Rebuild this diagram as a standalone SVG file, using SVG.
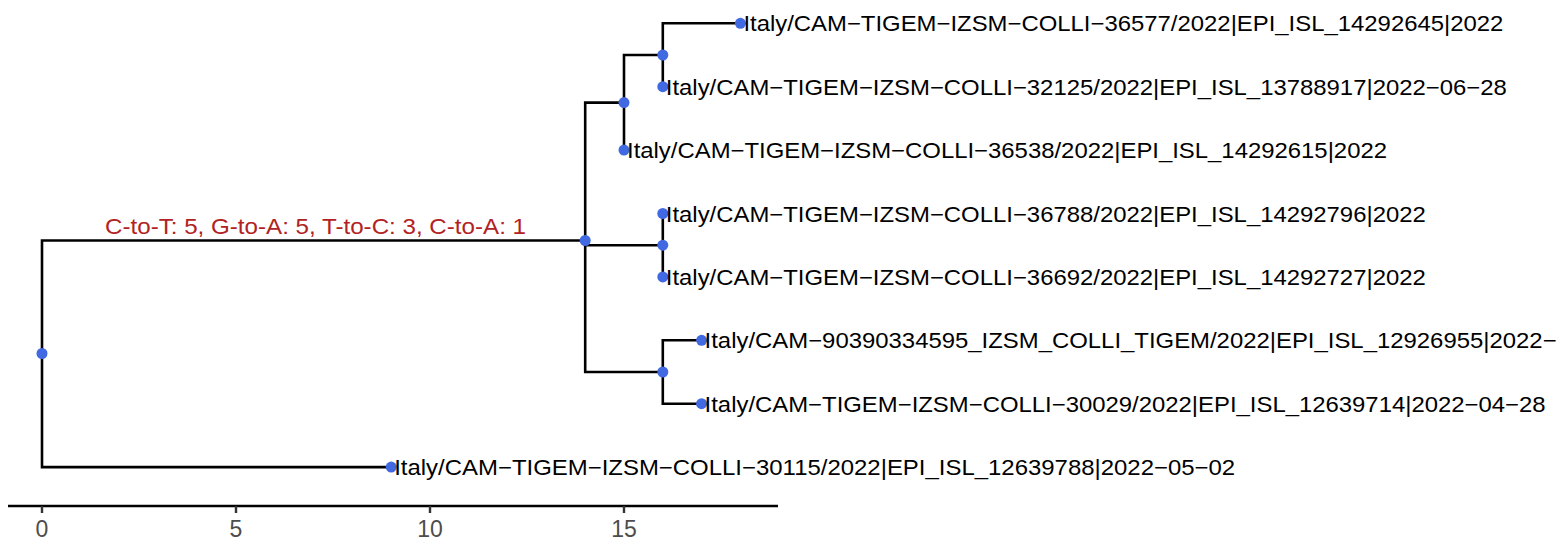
<svg xmlns="http://www.w3.org/2000/svg" width="1559" height="539" viewBox="0 0 1559 539">
<style>
.e{fill:none;stroke:#000;stroke-width:2.6;stroke-linejoin:miter}
.d{fill:#4169E1}
.t{font-family:"Liberation Sans",Arial,sans-serif;font-size:22px;fill:#000}
.m{font-family:"Liberation Sans",Arial,sans-serif;font-size:22px;fill:#B22222}
.a{font-family:"Liberation Sans",Arial,sans-serif;font-size:23px;fill:#4D4D4D;text-anchor:middle}
</style>
<rect width="1559" height="539" fill="#fff"/>
<g id="connectors">
<path class="e" d="M42 353.5V240.5H585.2"/>
<path class="e" d="M42 353.5V467.1H391.2"/>
<path class="e" d="M585.2 240.5V102.6H624"/>
<path class="e" d="M585.2 240.5V245.2H662.8"/>
<path class="e" d="M585.2 240.5V372H662.8"/>
<path class="e" d="M624 102.6V55H662.8"/>
<path class="e" d="M624 102.6V150.1"/>
<path class="e" d="M662.8 55V23.3H740.4"/>
<path class="e" d="M662.8 55V86.7"/>
<path class="e" d="M662.8 245.2V213.5"/>
<path class="e" d="M662.8 245.2V276.9"/>
<path class="e" d="M662.8 372V340.3H701.6"/>
<path class="e" d="M662.8 372V403.7H701.6"/>
<text class="m" x="105" y="234" textLength="421" lengthAdjust="spacingAndGlyphs">C-to-T: 5, G-to-A: 5, T-to-C: 3, C-to-A: 1</text>
</g>
<g id="root"><circle class="d" cx="42" cy="353.5" r="5.5"/></g>
<g id="n1"><circle class="d" cx="585.2" cy="240.5" r="5.5"/></g>
<g id="n2"><circle class="d" cx="624" cy="102.6" r="5.5"/></g>
<g id="n3"><circle class="d" cx="662.8" cy="55" r="5.5"/></g>
<g id="n4"><circle class="d" cx="662.8" cy="245.2" r="5.5"/></g>
<g id="n5"><circle class="d" cx="662.8" cy="372" r="5.5"/></g>
<g id="t1"><circle class="d" cx="740.4" cy="23.3" r="5.5"/><text class="t" x="743.4" y="31.3" textLength="760" lengthAdjust="spacingAndGlyphs">Italy/CAM−TIGEM−IZSM−COLLI−36577/2022|EPI_ISL_14292645|2022</text></g>
<g id="t2"><circle class="d" cx="662.8" cy="86.7" r="5.5"/><text class="t" x="665.8" y="94.7" textLength="841" lengthAdjust="spacingAndGlyphs">Italy/CAM−TIGEM−IZSM−COLLI−32125/2022|EPI_ISL_13788917|2022−06−28</text></g>
<g id="t3"><circle class="d" cx="624" cy="150.1" r="5.5"/><text class="t" x="627" y="158.1" textLength="760" lengthAdjust="spacingAndGlyphs">Italy/CAM−TIGEM−IZSM−COLLI−36538/2022|EPI_ISL_14292615|2022</text></g>
<g id="t4"><circle class="d" cx="662.8" cy="213.5" r="5.5"/><text class="t" x="665.8" y="221.5" textLength="760" lengthAdjust="spacingAndGlyphs">Italy/CAM−TIGEM−IZSM−COLLI−36788/2022|EPI_ISL_14292796|2022</text></g>
<g id="t5"><circle class="d" cx="662.8" cy="276.9" r="5.5"/><text class="t" x="665.8" y="284.9" textLength="760" lengthAdjust="spacingAndGlyphs">Italy/CAM−TIGEM−IZSM−COLLI−36692/2022|EPI_ISL_14292727|2022</text></g>
<g id="t6"><circle class="d" cx="701.6" cy="340.3" r="5.5"/><text class="t" x="704.6" y="348.3" textLength="852" lengthAdjust="spacingAndGlyphs">Italy/CAM−90390334595_IZSM_COLLI_TIGEM/2022|EPI_ISL_12926955|2022−</text></g>
<g id="t7"><circle class="d" cx="701.6" cy="403.7" r="5.5"/><text class="t" x="704.6" y="411.7" textLength="841" lengthAdjust="spacingAndGlyphs">Italy/CAM−TIGEM−IZSM−COLLI−30029/2022|EPI_ISL_12639714|2022−04−28</text></g>
<g id="t8"><circle class="d" cx="391.2" cy="467.1" r="5.5"/><text class="t" x="394.2" y="475.1" textLength="841" lengthAdjust="spacingAndGlyphs">Italy/CAM−TIGEM−IZSM−COLLI−30115/2022|EPI_ISL_12639788|2022−05−02</text></g>
<g id="axis">
<path d="M8 506H778" stroke="#000" stroke-width="2.4" fill="none"/>
<path d="M42 506V513M236 506V513M430 506V513M624 506V513" stroke="#333" stroke-width="2.4" fill="none"/>
<text class="a" x="42" y="537">0</text>
<text class="a" x="236" y="537">5</text>
<text class="a" x="430" y="537">10</text>
<text class="a" x="624" y="537">15</text>
</g>
</svg>
